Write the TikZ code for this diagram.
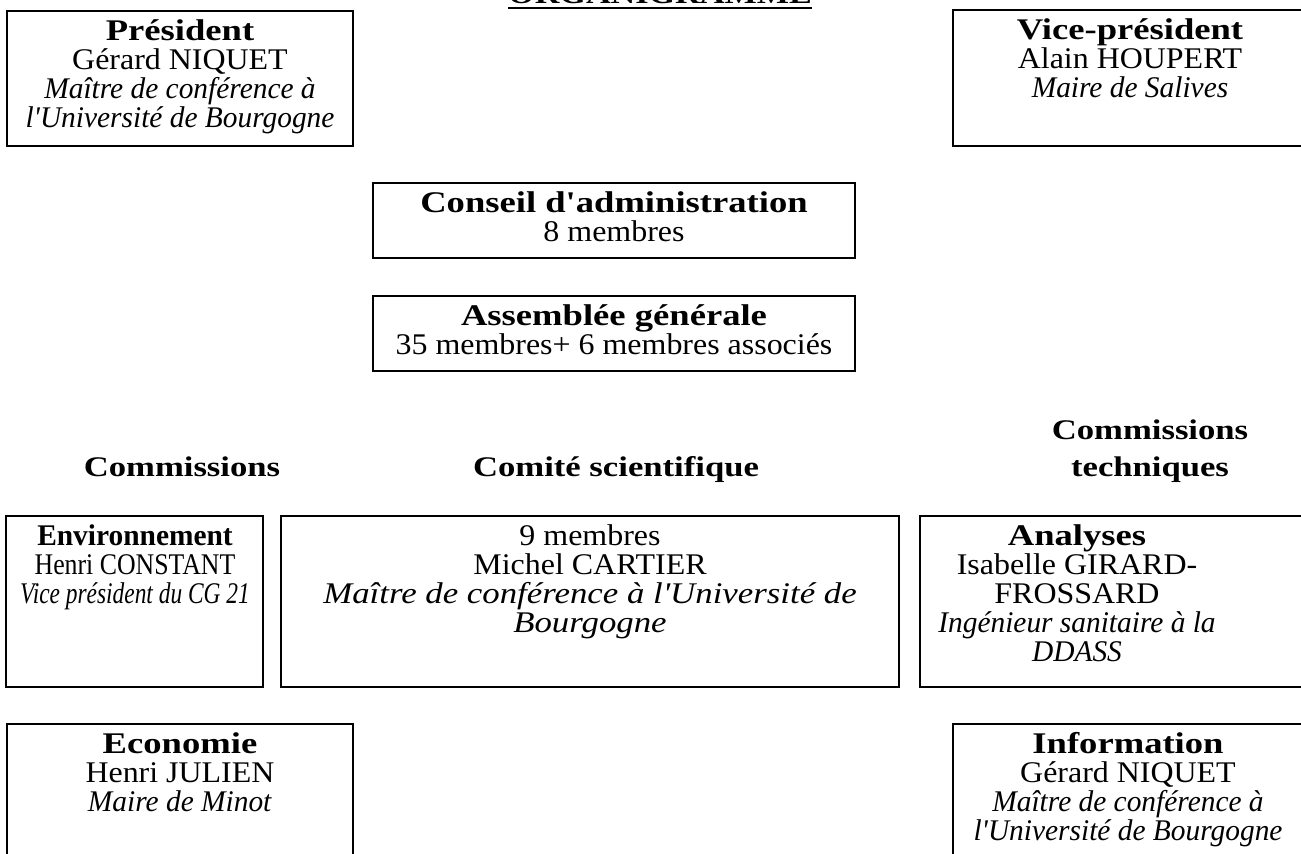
\documentclass[tikz,border=0pt]{standalone}
\usepackage{fontspec}
\setmainfont{Liberation Serif}[Ligatures=TeXOff,FakeStretch=1.065,BoldFeatures={FakeStretch=1.22},ItalicFeatures={FakeStretch=0.98}]
\newfontfamily\serre{Liberation Serif}[FakeStretch=0.86,BoldFeatures={FakeStretch=0.98},ItalicFeatures={FakeStretch=0.78}]
\newfontfamily\ample{Liberation Serif}[FakeStretch=1.065,ItalicFeatures={FakeStretch=1.16}]
\usepackage{tikz}
\setlength{\lineskiplimit}{-20pt}
\tikzset{
  cadre/.style={draw=black, line width=1pt, inner sep=0pt},
  texte/.style={anchor=north, align=center, inner sep=0pt, font=\fontsize{15}{14.5}\selectfont},
  rubrique/.style={anchor=north, align=center, inner sep=0pt, font=\fontsize{14.2}{18.5}\selectfont\bfseries},
}
\begin{document}
\begin{tikzpicture}[x=0.5pt,y=-0.5pt]
\useasboundingbox (0,0) rectangle (1301,854);
\node[inner sep=0pt, anchor=base, font=\fontsize{14}{17}\selectfont\bfseries] (titre) at (660,4) {ORGANIGRAMME};
\draw[line width=1pt] ([yshift=-2pt]titre.base west) -- ([yshift=-2pt]titre.base east);
\node[cadre, minimum width=173pt, minimum height=67.5pt] (pres) at (180,78.5) {};
\node[texte] (presT) at (180,19) {\strut\textbf{Président}\\Gérard NIQUET\\\textit{Maître de conférence à}\\\textit{l'Université de Bourgogne}};
\node[cadre, minimum width=177pt, minimum height=68pt] (vice) at (1130,78) {};
\node[texte] (viceT) at (1130,18) {\strut\textbf{Vice-président}\\Alain HOUPERT\\\textit{Maire de Salives}};
\node[cadre, minimum width=241pt, minimum height=37.5pt] (conseil) at (614,220.5) {};
\node[texte] (conseilT) at (614,191) {\strut\textbf{Conseil d'administration}\\8 membres};
\node[cadre, minimum width=241pt, minimum height=37.5pt] (ag) at (614,333.5) {};
\node[texte] (agT) at (614,304) {\strut\textbf{Assemblée générale}\\35 membres+ 6 membres associés};
\node[rubrique] (comm) at (182,450) {\strut Commissions};
\node[rubrique] (comsci) at (616,450) {\strut Comité scientifique};
\node[rubrique] (commtech) at (1150,413) {\strut Commissions\\techniques};
\node[cadre, minimum width=128.5pt, minimum height=85.5pt] (env) at (134.5,601.5) {};
\node[texte, font=\serre\fontsize{15}{14.5}\selectfont] (envT) at (135,524) {\strut\textbf{Environnement}\\Henri CONSTANT\\\textit{Vice président du CG 21}};
\node[cadre, minimum width=309pt, minimum height=85.5pt] (comite) at (590,601.5) {};
\node[texte, font=\ample\fontsize{15}{14.5}\selectfont] (comiteT) at (590,524) {\strut 9 membres\\Michel CARTIER\\\textit{Maître de conférence à l'Université de}\\\textit{Bourgogne}};
\node[cadre, minimum width=195pt, minimum height=85.5pt] (analyses) at (1115,601.5) {};
\node[texte] (analysesT) at (1077,524) {\strut\textbf{Analyses}\\Isabelle GIRARD-\\FROSSARD\\\textit{Ingénieur sanitaire à la}\\\textit{DDASS}};
\node[cadre, minimum width=173pt, minimum height=78pt] (eco) at (180,802) {};
\node[texte] (ecoT) at (180,732) {\strut\textbf{Economie}\\Henri JULIEN\\\textit{Maire de Minot}};
\node[cadre, minimum width=177pt, minimum height=78pt] (info) at (1130,802) {};
\node[texte] (infoT) at (1128,732) {\strut\textbf{Information}\\Gérard NIQUET\\\textit{Maître de conférence à}\\\textit{l'Université de Bourgogne}};
\end{tikzpicture}
\end{document}
